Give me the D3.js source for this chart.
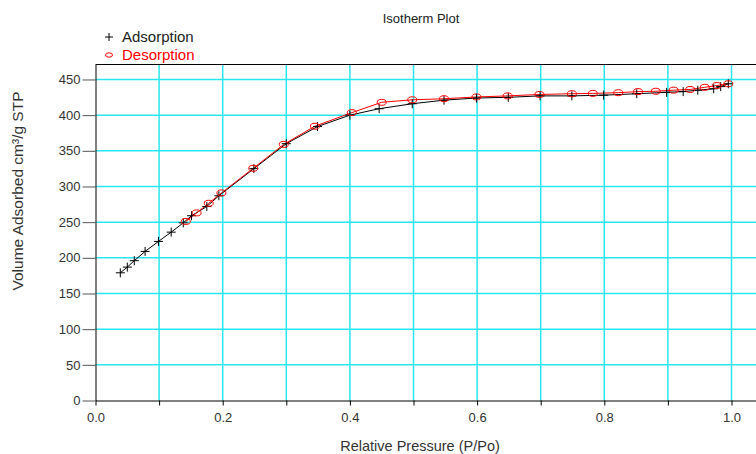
<!DOCTYPE html>
<html>
<head>
<meta charset="utf-8">
<script src="https://cdn.jsdelivr.net/npm/d3@7"></script>
<style>
  body { margin: 0; background: #fff; }
  svg { display: block; font-family: "Liberation Sans", Arial, sans-serif; }
</style>
</head>
<body>
<div id="chart"></div>
<script>
// Adsorption branch (P/Po, cm3/g STP)
const adsP = [0.039, 0.050, 0.061, 0.078, 0.099, 0.119, 0.138, 0.151, 0.175, 0.194,
              0.249, 0.300, 0.349, 0.400, 0.446, 0.498, 0.548, 0.599, 0.649, 0.699,
              0.749, 0.799, 0.851, 0.898, 0.924, 0.947, 0.972, 0.983, 0.995];
const adsV = [179, 187, 196, 209, 223, 236, 249, 259, 272, 287,
              325, 360, 384, 400, 409, 416, 421, 424, 425, 427,
              427, 428, 430, 432, 433, 435, 437, 440, 444];

// Desorption branch
const desP = [0.995, 0.977, 0.958, 0.935, 0.909, 0.881, 0.853, 0.822, 0.782, 0.749,
              0.698, 0.648, 0.599, 0.548, 0.498, 0.450, 0.403, 0.345, 0.296, 0.248,
              0.198, 0.178, 0.159, 0.142];
const desV = [444, 441.5, 439, 436, 435, 433.5, 433, 431.5, 430.5, 430,
              429, 427, 425.5, 423, 421.5, 418, 403.5, 384.5, 359, 325.5,
              291, 276.5, 263, 251];

const xTicks = [0, 0.1, 0.2, 0.3, 0.4, 0.5, 0.6, 0.7, 0.8, 0.9, 1.0];
const yTicks = [0, 50, 100, 150, 200, 250, 300, 350, 400, 450];

const width = 756, height = 454;
const plotLeft = 95.5, plotBottom = 400.5, plotTop = 64.5;
const font = '"Liberation Sans", Arial, sans-serif';

const svg = d3.select('#chart').append('svg')
    .attr('width', width)
    .attr('height', height);

const x = d3.scaleLinear().domain([0, 1.04]).range([plotLeft, plotLeft + 1.04 * 636]);
const y = d3.scaleLinear().domain([0, 471]).range([plotBottom, plotTop]);

// grid lines
const grid = svg.append('g').attr('stroke', '#2ae6f0').attr('stroke-width', 1.5);
grid.selectAll('line.v').data(xTicks.slice(1)).join('line')
    .attr('class', 'v')
    .attr('x1', d => x(d)).attr('x2', d => x(d))
    .attr('y1', plotTop).attr('y2', plotBottom);
grid.selectAll('line.h').data(yTicks.slice(1)).join('line')
    .attr('class', 'h')
    .attr('x1', plotLeft).attr('x2', width)
    .attr('y1', d => y(d)).attr('y2', d => y(d));

// frame top line
svg.append('line')
    .attr('x1', plotLeft).attr('x2', width)
    .attr('y1', plotTop).attr('y2', plotTop)
    .attr('stroke', '#000');

// axes
const xAxis = svg.append('g')
    .attr('transform', `translate(0,${plotBottom})`)
    .call(d3.axisBottom(x).tickValues(xTicks).tickSize(5).tickSizeOuter(0)
        .tickFormat((d, i) => i % 2 === 0 ? d3.format('.1f')(d) : ''));
xAxis.select('.domain').attr('stroke', '#000');
xAxis.selectAll('text').attr('font-size', 13).attr('fill', '#333')
    .attr('font-family', font).attr('dy', '1.05em');

const yAxis = svg.append('g')
    .attr('transform', `translate(${plotLeft},0)`)
    .call(d3.axisLeft(y).tickValues(yTicks).tickSize(13).tickSizeOuter(0).tickPadding(2));
yAxis.select('.domain').attr('stroke', '#000');
yAxis.selectAll('.tick line').attr('stroke', '#555');
yAxis.selectAll('text').attr('font-size', 13).attr('fill', '#333')
    .attr('font-family', font);

const ads = adsP.map((p, i) => [p, adsV[i]]);
const des = desP.map((p, i) => [p, desV[i]]);

const line = d3.line().x(d => x(d[0])).y(d => y(d[1]));

svg.append('path').datum(ads)
    .attr('d', line).attr('fill', 'none').attr('stroke', '#000').attr('stroke-width', 1);
svg.append('path').datum(des)
    .attr('d', line).attr('fill', 'none').attr('stroke', '#f00').attr('stroke-width', 1);

// markers
svg.append('g').attr('stroke', '#000').attr('stroke-width', 1)
    .selectAll('path').data(ads).join('path')
    .attr('d', d => {
        const cx = x(d[0]), cy = y(d[1]);
        return `M${cx - 4.5},${cy}H${cx + 4.5}M${cx},${cy - 4.5}V${cy + 4.5}`;
    });
svg.append('g').attr('stroke', '#f00').attr('stroke-width', 1).attr('fill', 'none')
    .selectAll('ellipse').data(des).join('ellipse')
    .attr('cx', d => x(d[0])).attr('cy', d => y(d[1]))
    .attr('rx', 4.5).attr('ry', 3);

// title
svg.append('text').attr('x', 421).attr('y', 23)
    .attr('text-anchor', 'middle').attr('font-size', 13).attr('fill', '#222')
    .text('Isotherm Plot');

// legend
svg.append('path').attr('d', 'M105,37H113M109,33V41').attr('stroke', '#000');
svg.append('text').attr('x', 122).attr('y', 42)
    .attr('font-size', 15).attr('fill', '#222').text('Adsorption');
svg.append('ellipse').attr('cx', 109).attr('cy', 55).attr('rx', 3.5).attr('ry', 2.2)
    .attr('fill', 'none').attr('stroke', '#f00');
svg.append('text').attr('x', 122).attr('y', 60)
    .attr('font-size', 15).attr('fill', '#f00').text('Desorption');

// axis titles
svg.append('text').attr('x', 420).attr('y', 451)
    .attr('text-anchor', 'middle').attr('font-size', 14.5).attr('fill', '#333')
    .text('Relative Pressure (P/Po)');
svg.append('text')
    .attr('transform', 'translate(23,191) rotate(-90)')
    .attr('text-anchor', 'middle').attr('font-size', 15.5).attr('fill', '#333')
    .text('Volume Adsorbed cm³/g STP');
</script>
</body>
</html>
